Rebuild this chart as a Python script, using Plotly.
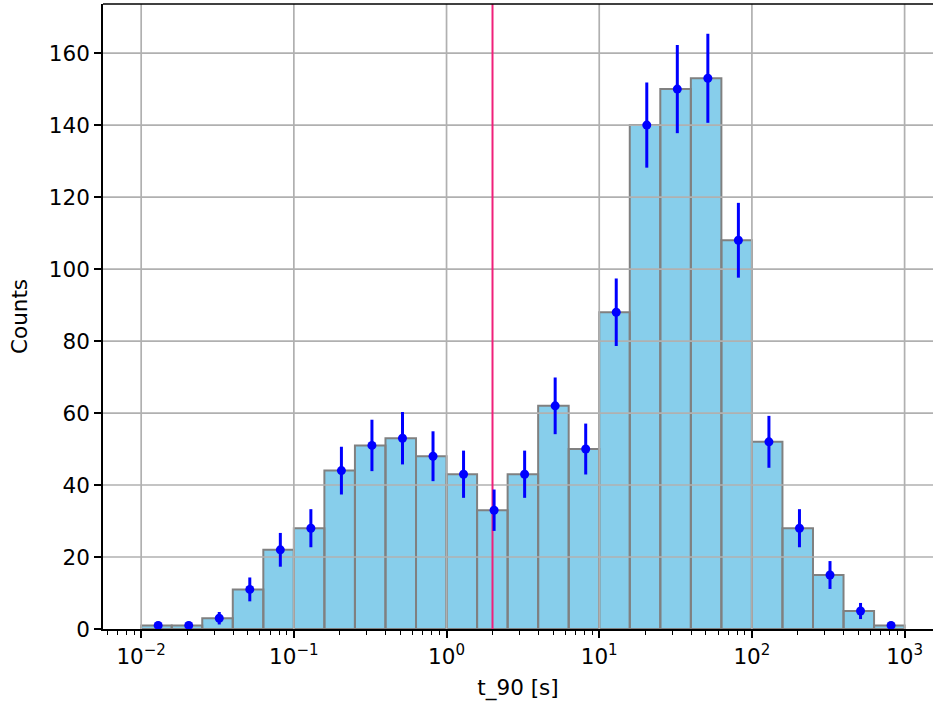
import numpy as np
import plotly.graph_objects as go

# ---- data ----
bin_edges = list(np.logspace(-2, 3, 26))
counts = [1, 1, 3, 11, 22, 28, 44, 51, 53, 48, 43, 33, 43, 62, 50, 88,
          140, 150, 153, 108, 52, 28, 15, 5, 1]
threshold = 2.0
x_tick_vals = [1e-2, 1e-1, 1e0, 1e1, 1e2, 1e3]
x_tick_text = ["10<sup>−2</sup>", "10<sup>−1</sup>", "10<sup>0</sup>",
               "10<sup>1</sup>", "10<sup>2</sup>", "10<sup>3</sup>"]
y_tick_vals = [0, 20, 40, 60, 80, 100, 120, 140, 160]

# ---- derived ----
centers = [(bin_edges[i] + bin_edges[i + 1]) / 2 for i in range(len(counts))]
errors = [np.sqrt(c) for c in counts]
ymax = max(c + e for c, e in zip(counts, errors)) * 1.05
xr = [-2.25, 3.186]
minor_vals = [m * 10.0 ** k for k in range(-3, 4) for m in range(2, 10)
              if xr[0] <= np.log10(m * 10.0 ** k) <= xr[1]]

FONT = "DejaVu Sans"
GRID = "#b0b0b0"

fig = go.Figure()

# bars as rectangles
bx, by = [], []
for i, c in enumerate(counts):
    x0, x1 = bin_edges[i], bin_edges[i + 1]
    bx += [x0, x0, x1, x1, x0, None]
    by += [0, c, c, 0, 0, None]
fig.add_trace(go.Scatter(x=bx, y=by, mode="lines", fill="toself",
                         fillcolor="#87CEEB", line=dict(color="#808080", width=2),
                         hoverinfo="skip", showlegend=False))

# grid lines (above bars, below lines)
gx, gy = [], []
for v in x_tick_vals:
    gx += [v, v, None]
    gy += [0, ymax, None]
for v in y_tick_vals[1:]:
    gx += [10 ** xr[0], 10 ** xr[1], None]
    gy += [v, v, None]
fig.add_trace(go.Scatter(x=gx, y=gy, mode="lines", line=dict(color=GRID, width=1.7),
                         hoverinfo="skip", showlegend=False))

# threshold line
fig.add_trace(go.Scatter(x=[threshold, threshold], y=[0, ymax], mode="lines",
                         line=dict(color="#F0207A", width=2), showlegend=False))

# error bars
fig.add_trace(go.Scatter(x=centers, y=counts, mode="markers",
                         marker=dict(color="#0000FF", size=9),
                         error_y=dict(type="data", array=errors, visible=True,
                                      color="#0000FF", thickness=3, width=0),
                         showlegend=False))

fig.update_layout(
    width=933, height=707,
    margin=dict(l=103, r=0, t=4, b=78),
    paper_bgcolor="white", plot_bgcolor="white",
    font=dict(family=FONT, size=21.5, color="black"),
    xaxis=dict(type="log", range=xr, showgrid=False, zeroline=False,
               tickmode="array", tickvals=x_tick_vals, ticktext=x_tick_text,
               ticks="outside", ticklen=7, tickwidth=1.7, tickcolor="black",
               showline=True, linecolor="black", linewidth=1.7,
               minor=dict(tickmode="array", tickvals=minor_vals, ticks="outside",
                          ticklen=4, tickwidth=1.2, tickcolor="black", showgrid=False),
               title=dict(text="t_90 [s]", standoff=12, font=dict(size=21.5)),
               automargin=False),
    yaxis=dict(range=[0, ymax], showgrid=False, zeroline=False,
               tickmode="array", tickvals=y_tick_vals,
               ticks="outside", ticklen=7, tickwidth=1.7, tickcolor="black",
               showline=True, linecolor="black", linewidth=1.7,
               title=dict(text="Counts", standoff=15, font=dict(size=21.5)),
               automargin=False),
    shapes=[dict(type="line", xref="paper", yref="paper", x0=0, x1=1, y0=1, y1=1,
                 line=dict(color="black", width=1.7), layer="above")],
)

fig.write_html("out.html")
